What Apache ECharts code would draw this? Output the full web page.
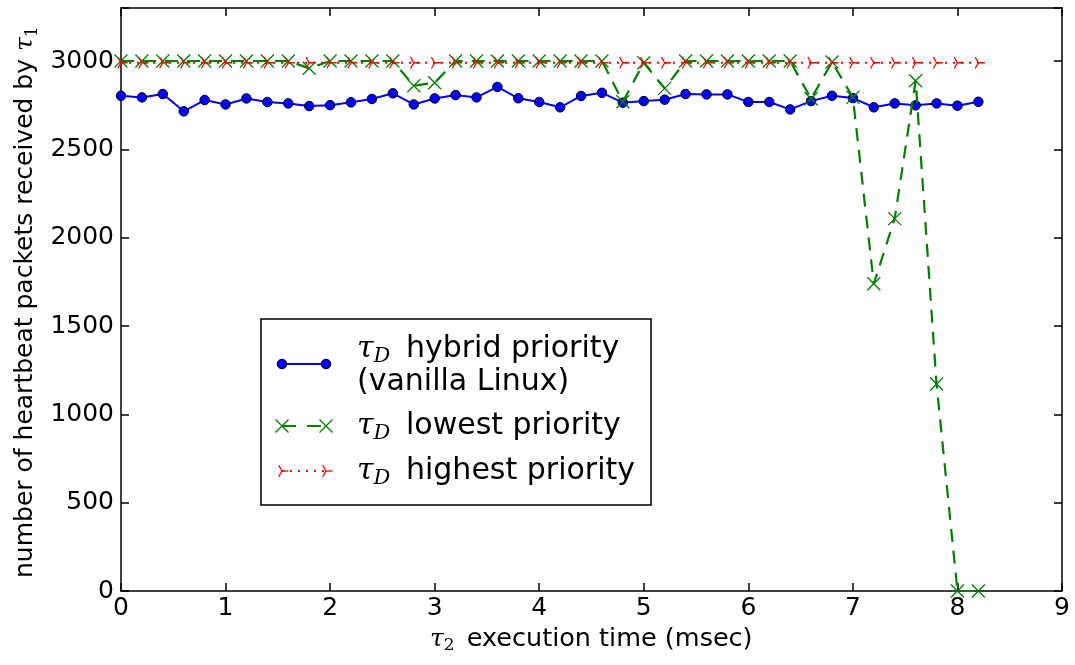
<!DOCTYPE html>
<html>
<head>
<meta charset="utf-8">
<title>Heartbeat packets vs execution time</title>
<script src="https://cdn.jsdelivr.net/npm/echarts@6/dist/echarts.min.js"></script>
<style>
  html, body { margin: 0; padding: 0; background: #ffffff; }
  #chart { width: 1075px; height: 665px; }
</style>
</head>
<body>
<div id="chart"></div>
<script>
// tau_2 execution time (msec)
const execTime = [0, 0.2, 0.4, 0.6, 0.8, 1.0, 1.2, 1.4, 1.6, 1.8,
                  2.0, 2.2, 2.4, 2.6, 2.8, 3.0, 3.2, 3.4, 3.6, 3.8,
                  4.0, 4.2, 4.4, 4.6, 4.8, 5.0, 5.2, 5.4, 5.6, 5.8,
                  6.0, 6.2, 6.4, 6.6, 6.8, 7.0, 7.2, 7.4, 7.6, 7.8,
                  8.0, 8.2];

// heartbeat packets received by tau_1, tau_D with hybrid priority (vanilla Linux)
const hybridPriority = [2803, 2794, 2813, 2715, 2779, 2754, 2788, 2768, 2760, 2745,
                        2750, 2766, 2785, 2817, 2754, 2788, 2807, 2794, 2853, 2789,
                        2768, 2738, 2802, 2820, 2764, 2773, 2781, 2813, 2811, 2811,
                        2768, 2768, 2726, 2773, 2803, 2790, 2738, 2760, 2749, 2760,
                        2747, 2769];

// tau_D with lowest priority
const lowestPriority = [3000, 3000, 3000, 3000, 3000, 3000, 3000, 3000, 3000, 2959,
                        3000, 3000, 3000, 3000, 2860, 2877, 3000, 3000, 3000, 3000,
                        3000, 3000, 3000, 3000, 2769, 2990, 2845, 3000, 3000, 3000,
                        3000, 3000, 3000, 2786, 2994, 2794, 1739, 2108, 2888, 1172,
                        0, 0];

// tau_D with highest priority
const highestPriority = [2990, 2990, 2990, 2990, 2990, 2990, 2990, 2990, 2990, 2990,
                         2990, 2990, 2990, 2990, 2990, 2990, 2990, 2990, 2990, 2990,
                         2990, 2990, 2990, 2990, 2990, 2990, 2990, 2990, 2990, 2990,
                         2990, 2990, 2990, 2990, 2990, 2990, 2990, 2990, 2990, 2990,
                         2990, 2990];

const xTicks = { min: 0, max: 9, step: 1 };
const yTicks = { min: 0, max: 3300, step: 500, lastLabel: 3000 };

const legendLabels = ['hybrid priority', '(vanilla Linux)', 'lowest priority', 'highest priority'];
const xAxisTitle = 'execution time (msec)';
const yAxisTitle = 'number of heartbeat packets received by ';

const BLUE = '#0000ff', GREEN = '#008000', RED = '#ff0000';
const SANS = 'DejaVu Sans';
const MATH = 'DejaVu Serif';

const pairs = ys => execTime.map((x, i) => [x, ys[i]]);

// marker shapes for the series
const xMarker = 'path://M0,0L10,10M10,0L0,10';
const triR = 6.5;
const triRightMarker = 'path://M5,5L10,5M5,5L2.5,9.33M5,5L2.5,0.67';

// the same markers for the legend, as plain line segments
function segs(list, color, z) {
  return list.map(s => ({
    type: 'line', z: z,
    shape: { x1: s[0], y1: s[1], x2: s[2], y2: s[3] },
    style: { stroke: color, lineWidth: 1.3 }
  }));
}
function xSegs(cx, cy, h, color) {
  return segs([[cx - h, cy - h, cx + h, cy + h], [cx + h, cy - h, cx - h, cy + h]], color, 62);
}
function triSegs(cx, cy, r, color) {
  const dx = r * 0.5, dy = r * 0.866;
  return segs([[cx, cy, cx + r, cy], [cx, cy, cx - dx, cy - dy], [cx, cy, cx - dx, cy + dy]], color, 62);
}

// tau with a subscript, followed by plain text
const mathRich = (fs, subFs, body, gap) => ({
  tau: { fontFamily: MATH, fontStyle: 'italic', fontSize: fs, lineHeight: fs + 6, verticalAlign: 'middle', color: '#000' },
  subI: { fontFamily: MATH, fontStyle: 'italic', fontSize: subFs, lineHeight: subFs, verticalAlign: 'bottom', color: '#000' },
  subN: { fontFamily: MATH, fontSize: subFs, lineHeight: subFs, verticalAlign: 'bottom', color: '#000' },
  t: { fontFamily: SANS, fontSize: body, lineHeight: fs + 6, verticalAlign: 'middle', color: '#000', padding: [0, 0, 0, gap] }
});

const commonAxis = {
  axisLine: { onZero: false, lineStyle: { color: '#000', width: 1.5 } },
  axisTick: { inside: true, length: 8, lineStyle: { color: '#000', width: 1.5 } },
  splitLine: { show: false }
};

const legendBox = { x: 261, y: 319, w: 390, h: 186 };
const LX0 = 282, LX1 = 326, TX = 357;

const graphic = [
  // axis titles
  {
    type: 'text', x: 430, y: 639, z: 50,
    style: {
      text: `{tau|τ}{subN|2}{t| ${xAxisTitle}}`,
      rich: mathRich(25, 17, 25.5, 4),
      verticalAlign: 'middle'
    }
  },
  {
    type: 'group', x: 10, y: 578, rotation: Math.PI / 2, z: 50,
    children: [{
      type: 'text', x: 0, y: 0,
      style: {
        text: `{t|${yAxisTitle}}{tau|τ}{subN|1}`,
        rich: mathRich(25, 17, 25, 0),
        align: 'left', verticalAlign: 'top'
      }
    }]
  },
  // legend
  {
    type: 'rect', z: 60,
    shape: { x: legendBox.x, y: legendBox.y, width: legendBox.w, height: legendBox.h },
    style: { fill: '#fff', stroke: '#000', lineWidth: 1.5 }
  },
  { type: 'line', z: 61, shape: { x1: LX0, y1: 364, x2: LX1, y2: 364 }, style: { stroke: BLUE, lineWidth: 2 } },
  { type: 'circle', z: 62, shape: { cx: LX0, cy: 364, r: 4.8 }, style: { fill: BLUE, stroke: '#000', lineWidth: 1 } },
  { type: 'circle', z: 62, shape: { cx: LX1, cy: 364, r: 4.8 }, style: { fill: BLUE, stroke: '#000', lineWidth: 1 } },
  { type: 'line', z: 61, shape: { x1: LX0, y1: 426, x2: LX1, y2: 426 }, style: { stroke: GREEN, lineWidth: 2, lineDash: [14, 11] } },
  ...xSegs(LX0, 426, 6.5, GREEN),
  ...xSegs(LX1, 426, 6.5, GREEN),
  { type: 'line', z: 61, shape: { x1: LX0, y1: 471, x2: LX1, y2: 471 }, style: { stroke: RED, lineWidth: 2, lineDash: [2, 6] } },
  ...triSegs(LX0, 471, triR, RED),
  ...triSegs(LX1, 471, triR, RED),
  {
    type: 'text', z: 62, x: TX, y: 349,
    style: { text: `{tau|τ}{subI|D}{t| ${legendLabels[0]}}`, rich: mathRich(30, 21, 30, 6), verticalAlign: 'middle' }
  },
  {
    type: 'text', z: 62, x: TX, y: 382,
    style: { text: legendLabels[1], font: `30px "${SANS}"`, fill: '#000', verticalAlign: 'middle' }
  },
  {
    type: 'text', z: 62, x: TX, y: 426,
    style: { text: `{tau|τ}{subI|D}{t| ${legendLabels[2]}}`, rich: mathRich(30, 21, 30, 6), verticalAlign: 'middle' }
  },
  {
    type: 'text', z: 62, x: TX, y: 471,
    style: { text: `{tau|τ}{subI|D}{t| ${legendLabels[3]}}`, rich: mathRich(30, 21, 30, 6), verticalAlign: 'middle' }
  }
];

const option = {
  backgroundColor: '#ffffff',
  animation: false,
  grid: { left: 121, right: 13, top: 8, bottom: 74, containLabel: false },
  xAxis: [
    Object.assign({
      type: 'value', position: 'bottom', min: xTicks.min, max: xTicks.max, interval: xTicks.step,
      axisLabel: { fontFamily: SANS, fontSize: 25, color: '#000', margin: 5 }
    }, commonAxis),
    Object.assign({
      type: 'value', position: 'top', min: xTicks.min, max: xTicks.max, interval: xTicks.step,
      axisLabel: { show: false }
    }, commonAxis)
  ],
  yAxis: [
    Object.assign({
      type: 'value', position: 'left', min: yTicks.min, max: yTicks.max, interval: yTicks.step,
      axisLabel: {
        fontFamily: SANS, fontSize: 25, color: '#000', margin: 7,
        formatter: v => (v > yTicks.lastLabel ? '' : String(v))
      }
    }, commonAxis),
    Object.assign({
      type: 'value', position: 'right', min: yTicks.min, max: yTicks.max, interval: yTicks.step,
      axisLabel: { show: false }
    }, commonAxis)
  ],
  series: [
    {
      name: 'hybrid', type: 'line', data: pairs(hybridPriority),
      lineStyle: { color: BLUE, width: 2 },
      symbol: 'circle', symbolSize: 9.5,
      itemStyle: { color: BLUE, borderColor: '#000', borderWidth: 1 },
      z: 3
    },
    {
      name: 'lowest', type: 'line', data: pairs(lowestPriority),
      lineStyle: { color: GREEN, width: 2.2, type: [13, 9] },
      symbol: xMarker, symbolSize: 13, symbolKeepAspect: false,
      itemStyle: { color: GREEN, borderColor: GREEN, borderWidth: 1.3 },
      z: 4
    },
    {
      name: 'highest', type: 'line', data: pairs(highestPriority),
      lineStyle: { color: RED, width: 2, type: [2, 6] },
      symbol: triRightMarker, symbolSize: [1.5 * triR, 1.732 * triR], symbolKeepAspect: false,
      symbolOffset: [0.25 * triR, 0],
      itemStyle: { color: RED, borderColor: RED, borderWidth: 1.3 },
      z: 5
    }
  ],
  graphic: graphic
};

const chart = echarts.init(document.getElementById('chart'), null, { renderer: 'canvas' });
chart.setOption(option);
</script>
</body>
</html>
